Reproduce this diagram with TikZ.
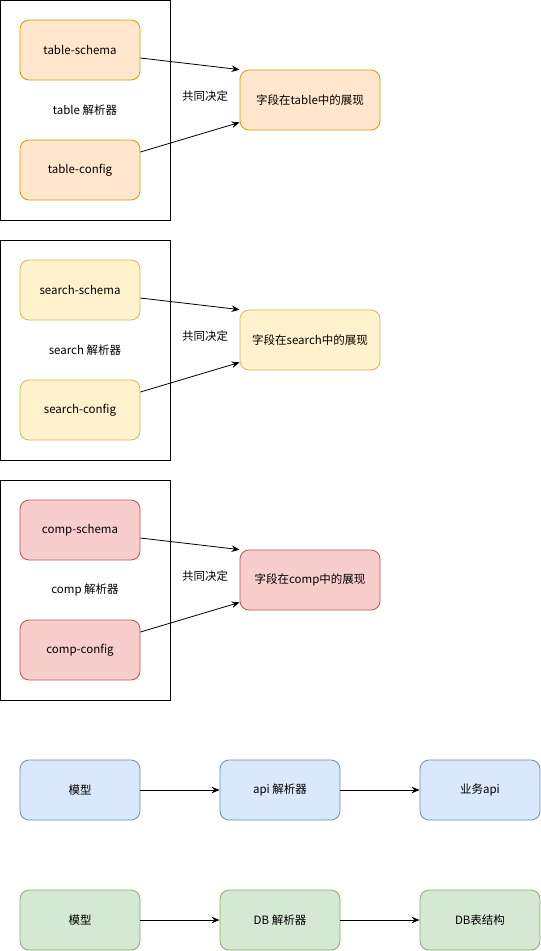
\documentclass[tikz,border=0pt]{standalone}
\usepackage{fontspec}
\setmainfont{Noto Sans CJK SC}
\usetikzlibrary{arrows.meta,positioning}

\definecolor{orangefill}{HTML}{FFE6CC}
\definecolor{orangeline}{HTML}{D79B00}
\definecolor{yellowfill}{HTML}{FFF2CC}
\definecolor{yellowline}{HTML}{D6B656}
\definecolor{redfill}{HTML}{F8CECC}
\definecolor{redline}{HTML}{B85450}
\definecolor{bluefill}{HTML}{DAE8FC}
\definecolor{blueline}{HTML}{6C8EBF}
\definecolor{greenfill}{HTML}{D5E8D4}
\definecolor{greenline}{HTML}{82B366}

\tikzset{
    box/.style={rounded corners=9pt, line width=0.8pt,
        minimum width=120pt, minimum height=60pt, inner sep=0pt,
        font=\fontsize{11.5}{13}\selectfont},
    lbl/.style={font=\fontsize{11.5}{13}\selectfont, inner sep=0pt},
}

\begin{document}
\begin{tikzpicture}[x=1pt, y=-1pt, >={Stealth[length=8pt,width=6.5pt]}]

    \useasboundingbox (0,0) rectangle (541,951);

    % parser groups
    \foreach \name/\dy/\fc/\dc in {
        table/0/orangefill/orangeline,
        search/240/yellowfill/yellowline,
        comp/480/redfill/redline}{
        \draw[line width=0.8pt] (0.5,\dy+0.5) rectangle (170,\dy+220);
        \node[box, fill=\fc, draw=\dc] (\name-schema) at (80,\dy+50) {\name-schema};
        \node[box, fill=\fc, draw=\dc] (\name-config) at (80,\dy+170) {\name-config};
        \node[lbl] (\name-parser) at (85,\dy+110) {\name{} 解析器};
        \node[box, fill=\fc, draw=\dc, minimum width=140pt] (\name-show) at (310,\dy+100)
            {字段在\name{}中的展现};
        \node[lbl] (\name-joint) at (205,\dy+96) {共同决定};
        \draw[->, line width=0.8pt]
            ([yshift=-8pt]\name-schema.east) -- (\name-show.north west);
        \draw[->, line width=0.8pt]
            ([yshift=18pt]\name-config.east) -- ([yshift=8pt]\name-show.south west);
    }

    % api row
    \node[box, fill=bluefill, draw=blueline] (model1) at (80,790) {模型};
    \node[box, fill=bluefill, draw=blueline] (apiparser) at (280,790) {api 解析器};
    \node[box, fill=bluefill, draw=blueline] (bizapi) at (480,790) {业务api};
    \draw[->, line width=0.8pt] (model1) -- (apiparser);
    \draw[->, line width=0.8pt] (apiparser) -- (bizapi);

    % db row
    \node[box, fill=greenfill, draw=greenline] (model2) at (80,920) {模型};
    \node[box, fill=greenfill, draw=greenline] (dbparser) at (280,920) {DB 解析器};
    \node[box, fill=greenfill, draw=greenline] (dbtable) at (480,920) {DB表结构};
    \draw[->, line width=0.8pt] (model2) -- (dbparser);
    \draw[->, line width=0.8pt] (dbparser) -- (dbtable);

\end{tikzpicture}
\end{document}
